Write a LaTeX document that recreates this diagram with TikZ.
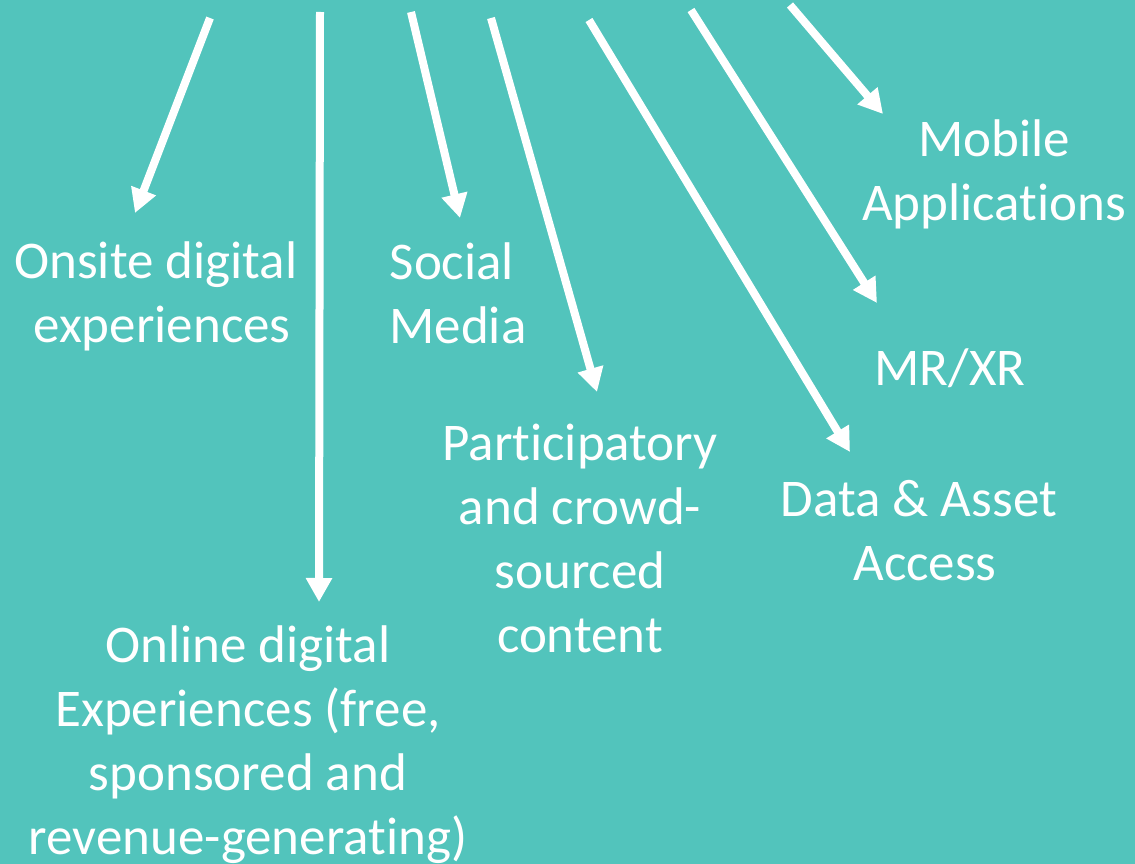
\documentclass[tikz,border=0pt]{standalone}
\usepackage{fontspec}
\setmainfont{Carlito}[Ligatures=NoCommon]
\usetikzlibrary{arrows.meta}
\definecolor{bgteal}{HTML}{52C4BC}
\begin{document}
\begin{tikzpicture}[x=1pt,y=-1pt,
  arr/.style={draw=white,line width=8pt,-{Triangle[width=25pt,length=24pt]}},
  lbl/.style={text=white,align=center,inner sep=0pt,font=\fontsize{53}{64}\selectfont}]
\fill[bgteal] (0,0) rectangle (1135,864);
\useasboundingbox (0,0) rectangle (1135,864);
% starts
\coordinate (s1) at (210,18);
\coordinate (s2) at (320,12);
\coordinate (s3) at (411,12);
\coordinate (s4) at (491,18);
\coordinate (s5) at (589,20);
\coordinate (s6) at (691,10);
\coordinate (s7) at (790,5);
% tips
\coordinate (t1) at (135,213);
\coordinate (t2) at (319,602);
\coordinate (t3) at (460,218);
\coordinate (t4) at (597,392);
\coordinate (t5) at (850,452);
\coordinate (t6) at (877,303);
\coordinate (t7) at (883,114);
\draw[arr] (s1) -- (t1);
\draw[arr] (s2) -- (t2);
\draw[arr] (s3) -- (t3);
\draw[arr] (s4) -- (t4);
\draw[arr] (s5) -- (t5);
\draw[arr] (s6) -- (t6);
\draw[arr] (s7) -- (t7);
% labels
\node[lbl] (onsite) at (162,296) {Onsite digital\hspace*{.23em}\\experiences};
\node[lbl] (online) at (248,745) {Online digital\\Experiences (free,\hspace*{.23em}\\sponsored and\hspace*{.23em}\\revenue-generating)};
\node[lbl] (social) at (458,293) {Social\hspace*{.23em}\\Media};
\node[lbl] (part) at (580,538) {Participatory\\and crowd-\\sourced\\content};
\node[lbl] (mrxr) at (950,368) {MR/XR};
\node[lbl] (data) at (925,531) {Data \& Asset\hspace*{.23em}\\Access};
\node[lbl] (mobile) at (994,174) {Mobile\\Applications};
\end{tikzpicture}
\end{document}
